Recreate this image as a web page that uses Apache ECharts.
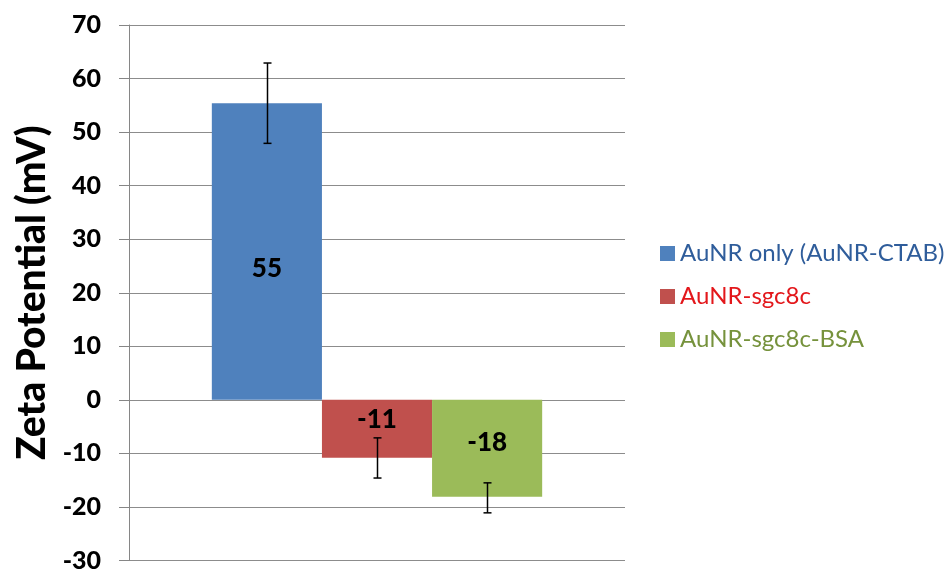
<!DOCTYPE html>
<html>
<head>
<meta charset="utf-8">
<script src="https://cdn.jsdelivr.net/npm/echarts@6/dist/echarts.min.js"></script>
<style>html,body{margin:0;padding:0;background:#fff}#c{width:951px;height:573px}</style>
</head>
<body>
<div id="c"></div>
<script>
var categories = ['Zeta'];
var seriesNames = ['AuNR only (AuNR-CTAB)', 'AuNR-sgc8c', 'AuNR-sgc8c-BSA'];
var values = [55.4, -10.8, -18.1];
var labels = ['55', '-11', '-18'];
var errLow = [47.9, -14.6, -21.1];
var errHigh = [62.9, -7.1, -15.5];
var yTicks = [-30, -20, -10, 0, 10, 20, 30, 40, 50, 60, 70];

var colors = ['#4F81BD', '#C0504D', '#9BBB59'];
var textColors = ['#2F5D9B', '#E3171B', '#76923C'];
var labelOffsets = [[0, 17], [0, -9], [0, -6]];
var BAR_FRAC = 0.222;

var chart = echarts.init(document.getElementById('c'));
var series = seriesNames.map(function (n, i) {
  return {
    name: n, type: 'bar', barWidth: (BAR_FRAC * 100) + '%', barGap: '0%',
    itemStyle: { color: colors[i] },
    label: { show: true, position: 'inside', offset: labelOffsets[i], formatter: labels[i], color: '#000',
      fontFamily: 'Lato', fontWeight: 900, fontSize: 26 },
    data: [values[i]], z: 2
  };
});
series.push({
  type: 'custom', z: 5, silent: true,
  data: seriesNames.map(function (n, i) { return [0, errLow[i], errHigh[i], i - 1]; }),
  renderItem: function (params, api) {
    var band = api.size([1, 0])[0];
    var off = api.value(3) * band * BAR_FRAC;
    var p1 = api.coord([api.value(0), api.value(1)]);
    var p2 = api.coord([api.value(0), api.value(2)]);
    var x = Math.round(p1[0] + off) + 0.5;
    var st = { stroke: '#000', lineWidth: 1.5 };
    return { type: 'group', children: [
      { type: 'line', shape: { x1: x, y1: p1[1], x2: x, y2: p2[1] }, style: st },
      { type: 'line', shape: { x1: x - 4, y1: p1[1], x2: x + 4, y2: p1[1] }, style: st },
      { type: 'line', shape: { x1: x - 4, y1: p2[1], x2: x + 4, y2: p2[1] }, style: st }
    ]};
  }
});

chart.setOption({
  animation: false,
  textStyle: { fontFamily: 'Lato' },
  grid: { left: 129, right: 326, top: 25, bottom: 9, containLabel: false },
  legend: {
    orient: 'vertical', left: 655, top: 234, itemWidth: 15, itemHeight: 15, itemGap: 14,
    icon: 'rect',
    data: seriesNames.map(function (n, i) {
      return { name: n, textStyle: { color: textColors[i], fontSize: 24, fontFamily: 'Lato', lineHeight: 29 } };
    })
  },
  xAxis: { type: 'category', data: categories, axisLabel: { show: false },
    axisTick: { show: false }, axisLine: { show: false } },
  yAxis: {
    type: 'value', min: yTicks[0], max: yTicks[yTicks.length - 1], interval: 10,
    name: 'Zeta Potential (mV)', nameLocation: 'middle', nameGap: 76, nameRotate: 90,
    nameTextStyle: { fontFamily: 'Lato', fontWeight: 900, fontSize: 39, color: '#000' },
    axisLine: { show: true, lineStyle: { color: '#868686', width: 1 } },
    axisTick: { show: true, length: 10, lineStyle: { color: '#868686' } },
    axisLabel: { margin: 28, color: '#000', fontWeight: 900, fontSize: 25, fontFamily: 'Lato' },
    splitLine: { lineStyle: { color: '#8C8C8C', width: 1 } }
  },
  series: series
});
</script>
</body>
</html>
